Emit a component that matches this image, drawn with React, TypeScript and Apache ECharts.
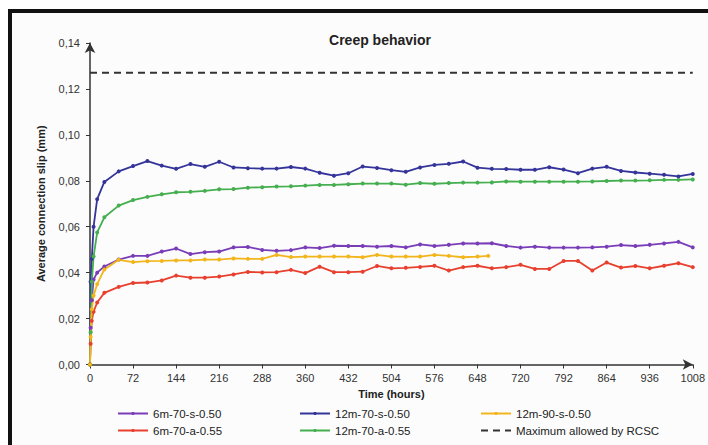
import React, { useEffect, useRef } from "react";
import * as echarts from "echarts";

const hours = [0, 1, 3, 6, 12, 24, 48, 72, 96, 120, 144, 168, 192, 216, 240, 264, 288, 312, 336, 360, 384, 408, 432, 456, 480, 504, 528, 552, 576, 600, 624, 648, 672, 696, 720, 744, 768, 792, 816, 840, 864, 888, 912, 936, 960, 984, 1008];
const yellowHours = [0, 1, 3, 6, 12, 24, 48, 72, 96, 120, 144, 168, 192, 216, 240, 264, 288, 312, 336, 360, 384, 408, 432, 456, 480, 504, 528, 552, 576, 600, 624, 648, 666];

const s6m70s = [0, 0.016, 0.028, 0.037, 0.040, 0.0427, 0.0457, 0.0473, 0.0473, 0.0492, 0.0505, 0.0481, 0.0489, 0.0492, 0.0510, 0.0512, 0.0499, 0.0495, 0.0498, 0.0510, 0.0507, 0.0517, 0.0516, 0.0516, 0.0513, 0.0516, 0.0510, 0.0523, 0.0516, 0.0521, 0.0527, 0.0527, 0.0528, 0.0516, 0.0509, 0.0513, 0.0509, 0.0509, 0.0509, 0.0510, 0.0513, 0.0520, 0.0516, 0.0521, 0.0527, 0.0534, 0.0510];
const s12m70s = [0, 0.036, 0.046, 0.060, 0.072, 0.0795, 0.0841, 0.0864, 0.0886, 0.0866, 0.0852, 0.0873, 0.0861, 0.0883, 0.0858, 0.0855, 0.0853, 0.0853, 0.0860, 0.0853, 0.0835, 0.0822, 0.0833, 0.0862, 0.0856, 0.0846, 0.0839, 0.0858, 0.0869, 0.0874, 0.0884, 0.0857, 0.0852, 0.0851, 0.0848, 0.0848, 0.0859, 0.0849, 0.0833, 0.0853, 0.0861, 0.0843, 0.0836, 0.0831, 0.0826, 0.0819, 0.0830];
const s12m90s = [0, 0.012, 0.024, 0.030, 0.035, 0.0414, 0.0456, 0.0446, 0.0450, 0.0451, 0.0453, 0.0453, 0.0457, 0.0457, 0.0462, 0.0460, 0.0460, 0.0477, 0.0468, 0.0470, 0.0470, 0.0470, 0.0470, 0.0467, 0.0477, 0.0470, 0.0470, 0.0470, 0.0477, 0.0473, 0.0467, 0.0470, 0.0473];
const s6m70a = [0, 0.009, 0.019, 0.023, 0.027, 0.0312, 0.0338, 0.0355, 0.0357, 0.0366, 0.0387, 0.0378, 0.0378, 0.0383, 0.0392, 0.0403, 0.0401, 0.0402, 0.0412, 0.0398, 0.0426, 0.0402, 0.0402, 0.0404, 0.0429, 0.0419, 0.0421, 0.0425, 0.0430, 0.0409, 0.0424, 0.0430, 0.0419, 0.0424, 0.0434, 0.0416, 0.0416, 0.0451, 0.0451, 0.0409, 0.0444, 0.0422, 0.0429, 0.0419, 0.0430, 0.0441, 0.0424];
const s12m70a = [0, 0.014, 0.036, 0.047, 0.0575, 0.0641, 0.0692, 0.0716, 0.0730, 0.0741, 0.0750, 0.0752, 0.0756, 0.0763, 0.0764, 0.0770, 0.0772, 0.0775, 0.0776, 0.0779, 0.0782, 0.0782, 0.0785, 0.0788, 0.0788, 0.0788, 0.0783, 0.0790, 0.0787, 0.0790, 0.0792, 0.0792, 0.0793, 0.0797, 0.0796, 0.0796, 0.0796, 0.0796, 0.0796, 0.0797, 0.0799, 0.0801, 0.0801, 0.0802, 0.0804, 0.0804, 0.0806];
const rcscHours = [0, 1008];
const rcscLimit = [0.127, 0.127];

const xTicks = { min: 0, max: 1008, interval: 72 };
const yTicks = { min: 0, max: 0.14, interval: 0.02 };

const zip = (xs: number[], ys: number[]) => xs.map((x, i) => [x, ys[i]]);

export default function App() {
  const ref = useRef<HTMLDivElement>(null);
  useEffect(() => {
    if (!ref.current) return;
    const chart = echarts.init(ref.current, null, { renderer: "svg" });
    const font = "Arial, 'Liberation Sans', sans-serif";
    const mk = (name: string, xs: number[], ys: number[], color: string) => ({
      name,
      type: "line",
      data: zip(xs, ys),
      symbol: "circle",
      symbolSize: 4,
      showSymbol: true,
      lineStyle: { color, width: 1.8 },
      itemStyle: { color },
      z: 3,
    });
    const legendText = { fontFamily: font, fontSize: 11.5, color: "#222" };
    const legendBase = {
      orient: "vertical",
      itemWidth: 30,
      itemHeight: 4,
      itemGap: 4,
      textStyle: { ...legendText, lineHeight: 13 },
      top: 402,
      selectedMode: false,
    };
    chart.setOption({
      animation: false,
      backgroundColor: "#fcfcfc",
      title: {
        text: "Creep behavior",
        left: 375,
        top: 28,
        textAlign: "center",
        textStyle: { fontFamily: font, fontSize: 14, fontWeight: "bold", color: "#222" },
      },
      graphic: [
        { type: "rect", shape: { x: 0, y: 0, width: 708, height: 9 }, style: { fill: "#ffffff" }, z: 100 },
        { type: "rect", shape: { x: 0, y: 0, width: 8, height: 445 }, style: { fill: "#ffffff" }, z: 100 },
        { type: "rect", shape: { x: 8, y: 9, width: 700, height: 4 }, style: { fill: "#111111" }, z: 100 },
        { type: "rect", shape: { x: 8, y: 9, width: 4, height: 436 }, style: { fill: "#111111" }, z: 100 },
      ],
      legend: [
        { ...legendBase, left: 112, data: ["6m-70-s-0.50", "6m-70-a-0.55"] },
        { ...legendBase, left: 294, data: ["12m-70-s-0.50", "12m-70-a-0.55"] },
        {
          ...legendBase,
          left: 475,
          data: ["12m-90-s-0.50", { name: "Maximum allowed by RCSC", itemStyle: { opacity: 0 } }],
        },
      ],
      grid: { left: 90, right: 11, top: 43, bottom: 80.5, containLabel: false },
      xAxis: {
        type: "value",
        ...xTicks,
        name: "Time (hours)",
        nameLocation: "middle",
        nameGap: 22,
        nameTextStyle: { fontFamily: font, fontSize: 11, fontWeight: "bold", color: "#222" },
        axisLine: { show: true, lineStyle: { color: "#333", width: 1.5 }, symbol: ["none", "arrow"], symbolSize: [8, 10] },
        axisTick: { show: true, length: 4, lineStyle: { color: "#333" } },
        axisLabel: { fontFamily: font, fontSize: 11, color: "#333", margin: 8, formatter: (v: number) => String(v) },
        splitLine: { show: false },
      },
      yAxis: {
        type: "value",
        ...yTicks,
        name: "Average connection slip (mm)",
        nameLocation: "middle",
        nameRotate: 90,
        nameGap: 44,
        nameTextStyle: { fontFamily: font, fontSize: 11, fontWeight: "bold", color: "#222" },
        axisLine: { show: true, lineStyle: { color: "#333", width: 1.5 }, symbol: ["none", "arrow"], symbolSize: [8, 10] },
        axisTick: { show: true, length: 4, lineStyle: { color: "#333" } },
        axisLabel: {
          fontFamily: font,
          fontSize: 11,
          color: "#333",
          margin: 10,
          formatter: (v: number) => v.toFixed(2).replace(".", ","),
        },
        splitLine: { show: false },
      },
      series: [
        mk("6m-70-s-0.50", hours, s6m70s, "#7a3db8"),
        mk("6m-70-a-0.55", hours, s6m70a, "#e8402e"),
        mk("12m-70-s-0.50", hours, s12m70s, "#34349a"),
        mk("12m-70-a-0.55", hours, s12m70a, "#45ae4f"),
        mk("12m-90-s-0.50", yellowHours, s12m90s, "#f2b61c"),
        {
          name: "Maximum allowed by RCSC",
          type: "line",
          data: zip(rcscHours, rcscLimit),
          symbol: "none",
          lineStyle: { color: "#333", width: 2, type: [7, 5] },
          itemStyle: { color: "#333" },
          z: 2,
        },
      ],
    });
    return () => chart.dispose();
  }, []);
  return <div ref={ref} style={{ position: "fixed", left: 0, top: 0, width: 708, height: 445 }} />;
}
